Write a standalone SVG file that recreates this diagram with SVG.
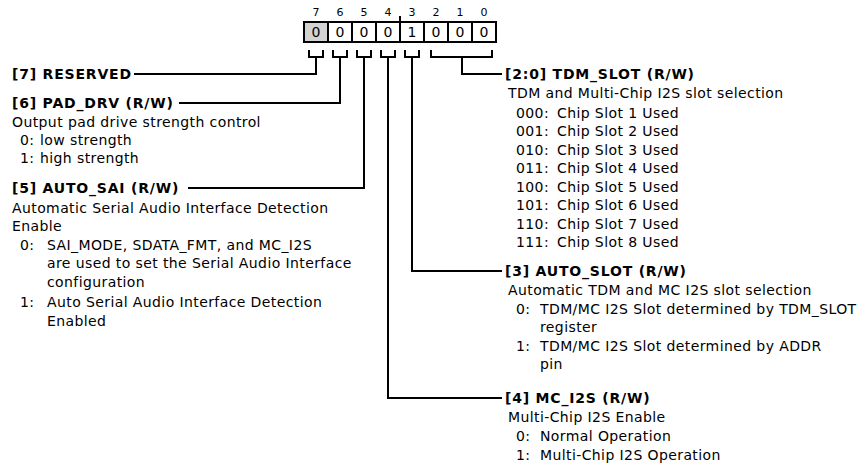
<svg xmlns="http://www.w3.org/2000/svg" width="868" height="464" viewBox="0 0 868 464">
<style>
text{font-family:"DejaVu Sans","Liberation Sans",sans-serif;fill:#000}
.h{font-size:14px;font-weight:bold;letter-spacing:0.8px}
.t{font-size:14px;letter-spacing:0.4px}
.n{font-size:11px}
.v{font-size:14px;text-anchor:middle}
.w{stroke:#000;stroke-width:2;fill:none}
.cell{stroke:#000;stroke-width:2;fill:#fff}
</style>
<rect width="868" height="464" fill="#fff"/>
<g id="register">
<g class="n" text-anchor="middle">
<text x="316" y="16">7</text><text x="340" y="16">6</text><text x="364" y="16">5</text><text x="388" y="16">4</text>
<text x="412" y="16">3</text><text x="436" y="16">2</text><text x="460" y="16">1</text><text x="484" y="16">0</text>
</g>
<line class="w" x1="400" y1="16" x2="400" y2="22"/>
<rect class="cell" x="304" y="22" width="24" height="20" style="fill:#d3d3d3"/>
<rect class="cell" x="328" y="22" width="24" height="20"/>
<rect class="cell" x="352" y="22" width="24" height="20"/>
<rect class="cell" x="376" y="22" width="24" height="20"/>
<rect class="cell" x="400" y="22" width="24" height="20"/>
<rect class="cell" x="424" y="22" width="24" height="20"/>
<rect class="cell" x="448" y="22" width="24" height="20"/>
<rect class="cell" x="472" y="22" width="24" height="20"/>
<text class="v" x="316" y="37">0</text><text class="v" x="340" y="37">0</text><text class="v" x="364" y="37">0</text><text class="v" x="388" y="37">0</text>
<text class="v" x="412" y="37">1</text><text class="v" x="436" y="37">0</text><text class="v" x="460" y="37">0</text><text class="v" x="484" y="37">0</text>
</g>
<g id="connectors">
<path class="w" d="M309,50V57H323V50M316,57V74H134"/>
<path class="w" d="M333,50V57H347V50M340,57V103H179"/>
<path class="w" d="M357,50V57H371V50M364,57V188H188"/>
<path class="w" d="M381,50V57H395V50M388,57V398H502"/>
<path class="w" d="M405,50V57H419V50M412,57V271H502"/>
<path class="w" d="M431,50V57H492V50M462,57V74H502"/>
</g>
<g id="bit7">
<text class="h" x="12" y="79">[7] RESERVED</text>
</g>
<g id="bit6">
<text class="h" x="12" y="108">[6] PAD_DRV (R/W)</text>
<text class="t" x="12" y="127">Output pad drive strength control</text>
<text class="t" x="20" y="145">0:<tspan x="40">low strength</tspan></text>
<text class="t" x="20" y="163">1:<tspan x="40">high strength</tspan></text>
</g>
<g id="bit5">
<text class="h" x="12" y="193">[5] AUTO_SAI (R/W)</text>
<text class="t" x="12" y="213">Automatic Serial Audio Interface Detection</text>
<text class="t" x="12" y="231">Enable</text>
<text class="t" x="20" y="250">0:<tspan x="47">SAI_MODE, SDATA_FMT, and MC_I2S</tspan></text>
<text class="t" x="47" y="268">are used to set the Serial Audio Interface</text>
<text class="t" x="47" y="287">configuration</text>
<text class="t" x="20" y="307">1:<tspan x="47">Auto Serial Audio Interface Detection</tspan></text>
<text class="t" x="47" y="326">Enabled</text>
</g>
<g id="bits2_0">
<text class="h" x="505" y="79">[2:0] TDM_SLOT (R/W)</text>
<text class="t" x="508" y="98">TDM and Multi-Chip I2S slot selection</text>
<text class="t" x="516" y="118">000:<tspan x="557">Chip Slot 1 Used</tspan></text>
<text class="t" x="516" y="136">001:<tspan x="557">Chip Slot 2 Used</tspan></text>
<text class="t" x="516" y="155">010:<tspan x="557">Chip Slot 3 Used</tspan></text>
<text class="t" x="516" y="173">011:<tspan x="557">Chip Slot 4 Used</tspan></text>
<text class="t" x="516" y="192">100:<tspan x="557">Chip Slot 5 Used</tspan></text>
<text class="t" x="516" y="210">101:<tspan x="557">Chip Slot 6 Used</tspan></text>
<text class="t" x="516" y="229">110:<tspan x="557">Chip Slot 7 Used</tspan></text>
<text class="t" x="516" y="247">111:<tspan x="557">Chip Slot 8 Used</tspan></text>
</g>
<g id="bit3">
<text class="h" x="505" y="276">[3] AUTO_SLOT (R/W)</text>
<text class="t" x="508" y="295">Automatic TDM and MC I2S slot selection</text>
<text class="t" x="516" y="314">0:<tspan x="540">TDM/MC I2S Slot determined by TDM_SLOT</tspan></text>
<text class="t" x="540" y="332">register</text>
<text class="t" x="516" y="351">1:<tspan x="540">TDM/MC I2S Slot determined by ADDR</tspan></text>
<text class="t" x="540" y="369">pin</text>
</g>
<g id="bit4">
<text class="h" x="505" y="403">[4] MC_I2S (R/W)</text>
<text class="t" x="508" y="422">Multi-Chip I2S Enable</text>
<text class="t" x="516" y="441">0:<tspan x="540">Normal Operation</tspan></text>
<text class="t" x="516" y="460">1:<tspan x="540">Multi-Chip I2S Operation</tspan></text>
</g>
</svg>
